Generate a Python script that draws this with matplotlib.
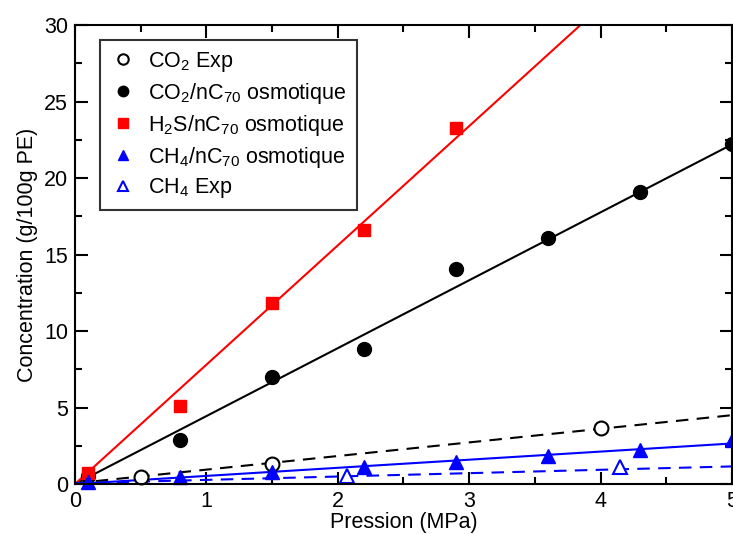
import numpy as np
import matplotlib
matplotlib.use("Agg")
import matplotlib.pyplot as plt
from matplotlib.ticker import MultipleLocator

plt.rcParams["font.family"] = ["Liberation Sans", "DejaVu Sans"]
plt.rcParams["mathtext.default"] = "regular"

# measured points
co2_exp_p = [0.5, 1.5, 4.0]
co2_exp_c = [0.45, 1.3, 3.65]

osm_p = [0.1, 0.8, 1.5, 2.2, 2.9, 3.6, 4.3, 5.0]
co2_osm_c = [0.5, 2.9, 7.0, 8.85, 14.05, 16.1, 19.1, 22.2]
ch4_osm_c = [0.15, 0.45, 0.8, 1.1, 1.45, 1.85, 2.25, 2.85]

h2s_p = [0.1, 0.8, 1.5, 2.2, 2.9]
h2s_c = [0.75, 5.1, 11.85, 16.6, 23.3]

ch4_exp_p = [2.07, 4.15]
ch4_exp_c = [0.55, 1.1]

# linear fits through origin (endpoints)
fit_p = [0.0, 5.0]
fit_co2_osm = [0.0, 22.2]
fit_h2s = [0.0, 39.0]
fit_ch4_osm = [0.0, 2.65]
fit_co2_exp = [0.05, 4.5]
fit_ch4_exp = [0.05, 1.15]

fig = plt.figure(figsize=(7.33, 5.34), dpi=100)
ax = fig.add_axes([0.1023, 0.0936, 0.8963, 0.8594])

ax.plot(fit_p, fit_co2_osm, color="black", lw=1.5)
ax.plot(fit_p, fit_h2s, color="red", lw=1.5)
ax.plot(fit_p, fit_ch4_osm, color="blue", lw=1.5)
ax.plot(fit_p, fit_co2_exp, color="black", lw=1.5, ls=(0, (6, 4)))
ax.plot(fit_p, fit_ch4_exp, color="blue", lw=1.5, ls=(0, (6, 4)))

ax.plot(co2_exp_p, co2_exp_c, "o", ls="none", ms=10, mfc="white",
        mec="black", mew=1.5, label=r"CO$_2$ Exp", clip_on=False)
ax.plot(osm_p, co2_osm_c, "o", ls="none", ms=10, color="black",
        label=r"CO$_2$/nC$_{70}$ osmotique", clip_on=False)
ax.plot(h2s_p, h2s_c, "s", ls="none", ms=9, color="red",
        label=r"H$_2$S/nC$_{70}$ osmotique", clip_on=False)
ax.plot(osm_p, ch4_osm_c, "^", ls="none", ms=10, color="blue",
        label=r"CH$_4$/nC$_{70}$ osmotique", clip_on=False)
ax.plot(ch4_exp_p, ch4_exp_c, "^", ls="none", ms=10, mfc="white",
        mec="blue", mew=1.5, label=r"CH$_4$ Exp", clip_on=False)

ax.set_xlim(0, 5)
ax.set_ylim(0, 30)
ax.xaxis.set_major_locator(MultipleLocator(1))
ax.xaxis.set_minor_locator(MultipleLocator(0.5))
ax.yaxis.set_major_locator(MultipleLocator(5))
ax.yaxis.set_minor_locator(MultipleLocator(2.5))
ax.tick_params(which="both", direction="in", top=True, right=True,
               width=1.5, labelsize=15.5)
ax.tick_params(which="major", length=9)
ax.tick_params(which="minor", length=5)
ax.tick_params(axis="y", pad=5)
ax.tick_params(axis="x", pad=5)
for s in ax.spines.values():
    s.set_linewidth(1.5)

ax.set_xlabel("Pression (MPa)", fontsize=15.5, labelpad=0)
ax.set_ylabel("Concentration (g/100g PE)", fontsize=15.5, labelpad=4)

leg = ax.legend(loc="upper left", bbox_to_anchor=(0.038, 0.967),
                fontsize=15.5, markerscale=0.75, frameon=True, fancybox=False,
                edgecolor="black", handletextpad=0.6, handlelength=1.2,
                borderpad=0.45, labelspacing=0.32, borderaxespad=0)
leg.get_frame().set_linewidth(1.5)

fig.savefig("out.png", dpi=100)
